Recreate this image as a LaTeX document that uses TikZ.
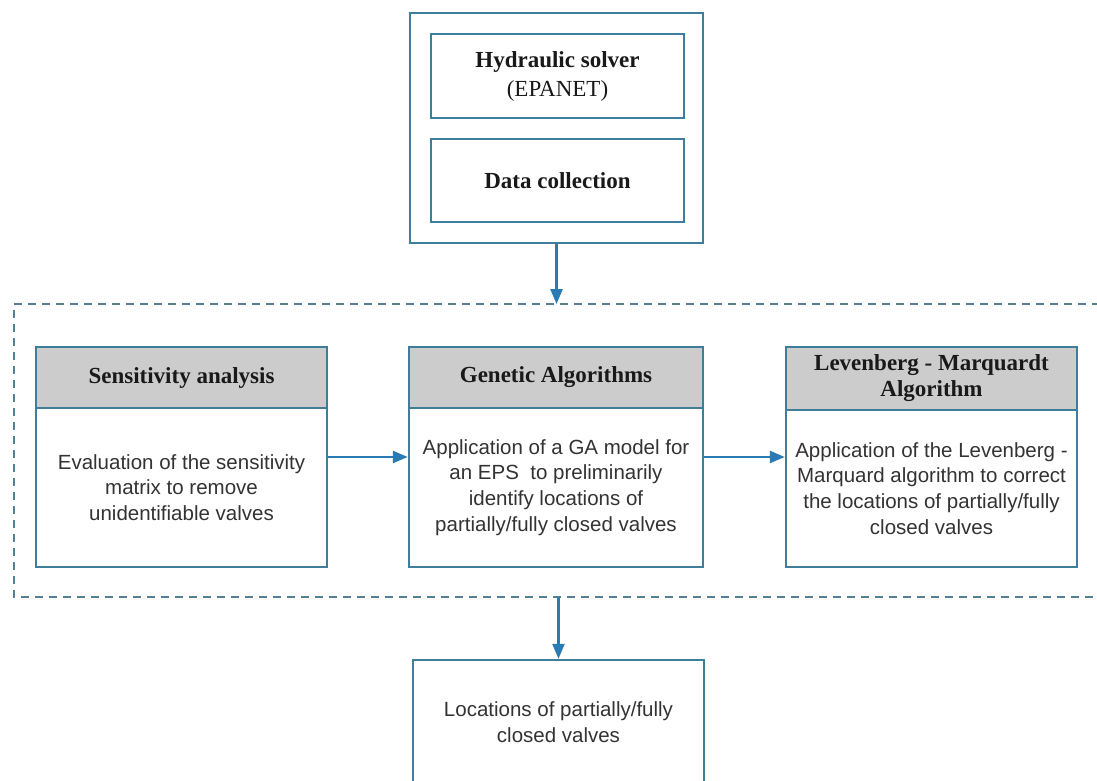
\documentclass[tikz,border=0pt]{standalone}
\usepackage{fontspec}
\setmainfont{Liberation Serif}
\newfontfamily\bodyfont{Liberation Sans}
\usetikzlibrary{arrows.meta}
\definecolor{boxblue}{HTML}{3F7E9B}
\definecolor{arrowblue}{HTML}{2A7AB3}
\definecolor{dashgray}{HTML}{557F92}
\definecolor{headgray}{HTML}{CCCCCC}
\definecolor{textgray}{HTML}{333333}

\begin{document}
\begin{tikzpicture}[x=1pt, y=-1pt,
    frame/.style={draw=boxblue, line width=2.4pt, fill=white},
    stage/.style={frame, minimum width=291pt, minimum height=220pt},
    header/.style={frame, fill=headgray, anchor=north, minimum width=291pt, minimum height=61pt, align=center, text=black!90, font=\fontsize{23}{26}\selectfont\bfseries},
    body/.style={align=center, text=textgray, font=\bodyfont\fontsize{20.5}{25.8}\selectfont},
    flow/.style={-{Triangle[length=15pt, width=12pt]}, draw=arrowblue, line width=2.4pt}]
    \clip (0,0) rectangle (1097,780);
    \node[frame, minimum width=293pt, minimum height=230pt] (input) at (556.5,128) {};
    \node[frame, minimum width=253pt, minimum height=84pt, align=center, text=black!90, font=\fontsize{23}{29}\selectfont] (solver) at (557.5,76) {\textbf{Hydraulic solver}\\(EPANET)};
    \node[frame, minimum width=253pt, minimum height=83pt, text=black!90, font=\fontsize{23}{29}\selectfont\bfseries] (data) at (557.5,180.5) {Data collection};
    \coordinate (topleft) at (14,304);
    \coordinate (botleft) at (14,597);
    \draw[dashgray, line width=2.4pt, dash pattern=on 8pt off 6pt] (1100,304) -- (topleft) -- (botleft) -- (1100,597);
    \node[stage] (sa) at (181.5,457) {};
    \node[header] (sahead) at (sa.north) {Sensitivity analysis};
    \node[body] (satext) at (181.5,487.5) {Evaluation of the sensitivity\\matrix to remove\\unidentifiable valves};
    \node[stage, minimum width=294pt] (ga) at (556,457) {};
    \node[header, minimum width=294pt] (gahead) at (ga.north) {Genetic Algorithms};
    \node[body] (gatext) at (556,487.5) {Application of a GA model for\\an EPS~ to preliminarily\\identify locations of\\partially/fully closed valves};
    \node[stage] (lm) at (931.5,457) {};
    \node[header, minimum height=63pt] (lmhead) at (lm.north) {Levenberg - Marquardt\\Algorithm};
    \node[body] (lmtext) at (931.5,488.5) {Application of the Levenberg -\\Marquard algorithm to correct\\the locations of partially/fully\\closed valves};
    \node[frame, body, minimum width=291pt, minimum height=124pt] (result) at (558.5,722) {Locations of partially/fully\\closed valves};
    \draw[flow] (input.south) -- (input.south |- topleft);
    \draw[flow] (sa) -- (ga);
    \draw[flow] (ga) -- (lm);
    \draw[flow] (result.north |- botleft) -- (result.north);
\end{tikzpicture}
\end{document}
